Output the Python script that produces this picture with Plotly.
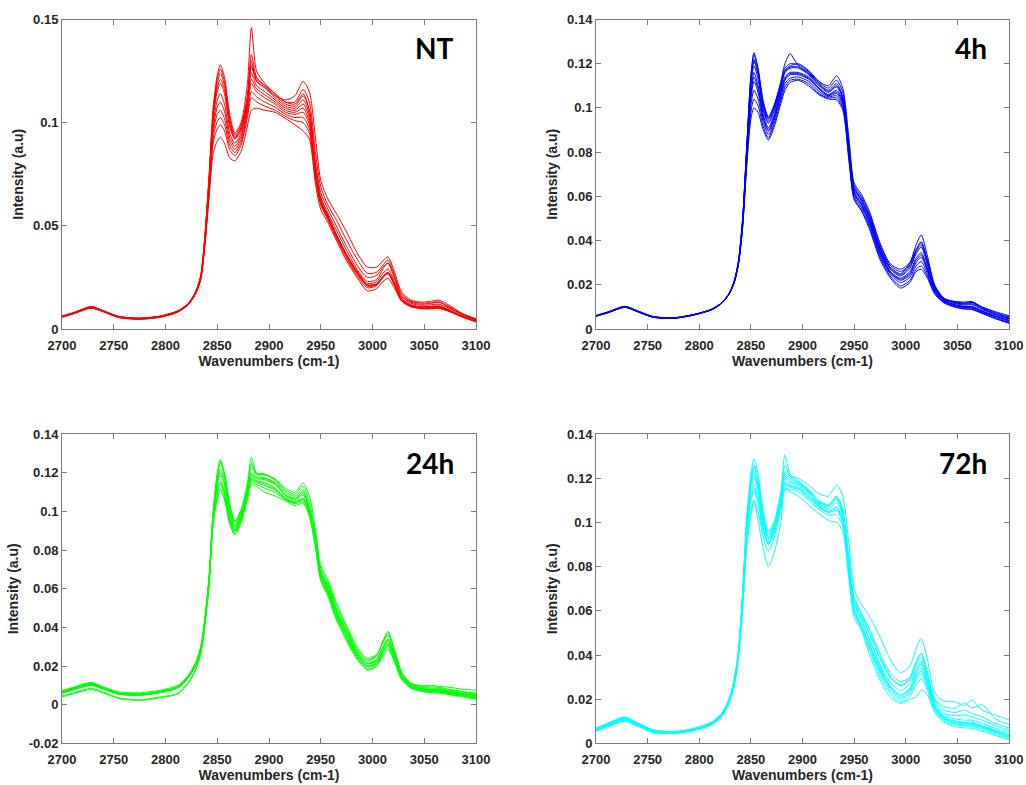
import plotly.graph_objects as go

# Wavenumber grid (cm-1) shared by all spectra
wavenumbers = [2700, 2712, 2728, 2740, 2755, 2775, 2795, 2812, 2822, 2829, 2834, 2838, 2842, 2846,
               2850, 2853, 2857, 2862, 2867, 2873, 2879, 2883, 2888, 2896, 2906, 2916, 2925, 2933,
               2939, 2945, 2950, 2957, 2965, 2975, 2985, 2995, 3004, 3010, 3015, 3021, 3028, 3037,
               3048, 3057, 3064, 3074, 3087, 3100]

nt_spectra = [
    [0.0062,0.0080,0.0108,0.0088,0.0060,0.0052,0.0062,0.0088,0.0125,0.0180,0.0260,0.0450,0.0740,0.1070,0.1230,0.1280,0.1220,0.1040,0.0950,0.1000,0.1180,0.1460,0.1250,0.1190,0.1140,0.1100,0.1090,0.1140,0.1060,0.0780,0.0640,0.0560,0.0480,0.0380,0.0290,0.0230,0.0240,0.0290,0.0320,0.0250,0.0160,0.0130,0.0120,0.0125,0.0130,0.0105,0.0070,0.0045],
    [0.0060,0.0078,0.0105,0.0086,0.0058,0.0050,0.0060,0.0085,0.0122,0.0178,0.0255,0.0440,0.0720,0.1050,0.1210,0.1260,0.1200,0.1020,0.0940,0.0990,0.1120,0.1300,0.1200,0.1170,0.1130,0.1110,0.1130,0.1200,0.1150,0.0920,0.0720,0.0630,0.0560,0.0470,0.0370,0.0300,0.0300,0.0330,0.0350,0.0280,0.0180,0.0140,0.0130,0.0135,0.0140,0.0115,0.0075,0.0050],
    [0.0058,0.0076,0.0102,0.0084,0.0056,0.0048,0.0058,0.0083,0.0120,0.0175,0.0250,0.0440,0.0720,0.1040,0.1190,0.1240,0.1180,0.1000,0.0930,0.0975,0.1120,0.1330,0.1220,0.1180,0.1130,0.1090,0.1080,0.1130,0.1060,0.0800,0.0660,0.0580,0.0500,0.0400,0.0310,0.0250,0.0260,0.0300,0.0320,0.0250,0.0160,0.0125,0.0115,0.0118,0.0120,0.0100,0.0068,0.0045],
    [0.0060,0.0079,0.0106,0.0087,0.0059,0.0051,0.0061,0.0086,0.0121,0.0176,0.0252,0.0435,0.0710,0.1020,0.1150,0.1190,0.1140,0.0980,0.0920,0.0965,0.1100,0.1270,0.1200,0.1170,0.1120,0.1080,0.1070,0.1110,0.1040,0.0770,0.0630,0.0550,0.0460,0.0360,0.0280,0.0220,0.0230,0.0270,0.0290,0.0230,0.0150,0.0118,0.0108,0.0110,0.0112,0.0092,0.0062,0.0040],
    [0.0057,0.0075,0.0101,0.0083,0.0055,0.0047,0.0057,0.0082,0.0118,0.0172,0.0246,0.0425,0.0690,0.0990,0.1110,0.1140,0.1090,0.0950,0.0900,0.0950,0.1090,0.1240,0.1180,0.1150,0.1110,0.1070,0.1060,0.1090,0.1020,0.0750,0.0610,0.0530,0.0440,0.0340,0.0260,0.0200,0.0210,0.0250,0.0270,0.0215,0.0140,0.0110,0.0100,0.0102,0.0105,0.0088,0.0058,0.0035],
    [0.0061,0.0080,0.0107,0.0088,0.0060,0.0052,0.0062,0.0087,0.0120,0.0172,0.0245,0.0420,0.0670,0.0950,0.1040,0.1060,0.1020,0.0910,0.0870,0.0920,0.1060,0.1190,0.1150,0.1120,0.1090,0.1050,0.1040,0.1050,0.0990,0.0740,0.0620,0.0545,0.0460,0.0360,0.0280,0.0215,0.0220,0.0255,0.0275,0.0220,0.0145,0.0115,0.0105,0.0108,0.0110,0.0092,0.0062,0.0040],
    [0.0059,0.0077,0.0103,0.0085,0.0057,0.0049,0.0059,0.0084,0.0118,0.0170,0.0240,0.0410,0.0650,0.0900,0.0970,0.0990,0.0960,0.0870,0.0840,0.0890,0.1020,0.1120,0.1100,0.1080,0.1060,0.1030,0.1010,0.1000,0.0950,0.0720,0.0600,0.0530,0.0450,0.0350,0.0270,0.0210,0.0215,0.0250,0.0268,0.0215,0.0140,0.0110,0.0100,0.0100,0.0102,0.0086,0.0058,0.0038],
    [0.0063,0.0081,0.0109,0.0089,0.0061,0.0053,0.0063,0.0088,0.0120,0.0170,0.0238,0.0400,0.0630,0.0850,0.0910,0.0930,0.0900,0.0830,0.0815,0.0860,0.0980,0.1060,0.1070,0.1060,0.1050,0.1020,0.0990,0.0960,0.0920,0.0700,0.0580,0.0515,0.0430,0.0330,0.0250,0.0185,0.0195,0.0230,0.0245,0.0200,0.0135,0.0108,0.0098,0.0098,0.0100,0.0085,0.0058,0.0035],
    [0.0061,0.0079,0.0106,0.0087,0.0059,0.0051,0.0061,0.0086,0.0121,0.0177,0.0254,0.0438,0.0715,0.1030,0.1170,0.1210,0.1160,0.0995,0.0925,0.0975,0.1110,0.1280,0.1210,0.1180,0.1140,0.1100,0.1100,0.1160,0.1100,0.0850,0.0690,0.0600,0.0530,0.0430,0.0340,0.0270,0.0275,0.0310,0.0335,0.0265,0.0170,0.0135,0.0125,0.0128,0.0132,0.0108,0.0072,0.0048],
    [0.0059,0.0078,0.0104,0.0085,0.0057,0.0049,0.0059,0.0084,0.0119,0.0171,0.0244,0.0422,0.0680,0.0970,0.1075,0.1100,0.1055,0.0930,0.0885,0.0935,0.1075,0.1210,0.1165,0.1135,0.1100,0.1060,0.1050,0.1070,0.1005,0.0745,0.0615,0.0538,0.0450,0.0350,0.0270,0.0208,0.0215,0.0252,0.0272,0.0218,0.0142,0.0112,0.0102,0.0105,0.0108,0.0090,0.0060,0.0038],
    [0.0060,0.0079,0.0105,0.0086,0.0058,0.0050,0.0060,0.0085,0.0119,0.0171,0.0242,0.0415,0.0660,0.0925,0.1005,0.1025,0.0990,0.0890,0.0855,0.0905,0.1040,0.1150,0.1125,0.1100,0.1075,0.1040,0.1025,0.1025,0.0970,0.0730,0.0610,0.0538,0.0455,0.0355,0.0275,0.0212,0.0218,0.0252,0.0272,0.0218,0.0142,0.0112,0.0102,0.0104,0.0106,0.0089,0.0060,0.0039],
]

h4_spectra = [
    [0.0060,0.0077,0.0102,0.0082,0.0056,0.0050,0.0066,0.0090,0.0120,0.0162,0.0220,0.0310,0.0500,0.0830,0.1150,0.1250,0.1180,0.1030,0.0960,0.1020,0.1120,0.1200,0.1245,0.1190,0.1160,0.1110,0.1080,0.1110,0.1050,0.0820,0.0640,0.0590,0.0510,0.0370,0.0280,0.0250,0.0300,0.0380,0.0425,0.0330,0.0200,0.0140,0.0120,0.0115,0.0120,0.0095,0.0070,0.0050],
    [0.0058,0.0075,0.0099,0.0079,0.0054,0.0049,0.0064,0.0088,0.0118,0.0160,0.0217,0.0305,0.0490,0.0815,0.1120,0.1220,0.1160,0.1010,0.0950,0.1010,0.1100,0.1170,0.1190,0.1200,0.1170,0.1120,0.1100,0.1145,0.1090,0.0860,0.0660,0.0610,0.0530,0.0390,0.0295,0.0270,0.0300,0.0360,0.0390,0.0310,0.0195,0.0138,0.0125,0.0122,0.0124,0.0100,0.0078,0.0060],
    [0.0061,0.0078,0.0103,0.0083,0.0057,0.0051,0.0066,0.0089,0.0119,0.0161,0.0216,0.0302,0.0485,0.0805,0.1100,0.1190,0.1130,0.0990,0.0930,0.0990,0.1090,0.1160,0.1180,0.1180,0.1150,0.1100,0.1070,0.1095,0.1040,0.0810,0.0630,0.0580,0.0500,0.0360,0.0270,0.0240,0.0275,0.0340,0.0370,0.0290,0.0185,0.0132,0.0115,0.0108,0.0110,0.0088,0.0065,0.0045],
    [0.0057,0.0074,0.0098,0.0078,0.0053,0.0048,0.0063,0.0087,0.0117,0.0159,0.0213,0.0298,0.0478,0.0795,0.1070,0.1160,0.1100,0.0970,0.0910,0.0975,0.1075,0.1140,0.1160,0.1160,0.1140,0.1090,0.1060,0.1080,0.1030,0.0800,0.0620,0.0570,0.0490,0.0350,0.0260,0.0230,0.0260,0.0320,0.0345,0.0275,0.0180,0.0130,0.0110,0.0102,0.0102,0.0082,0.0060,0.0040],
    [0.0059,0.0076,0.0100,0.0080,0.0055,0.0050,0.0065,0.0088,0.0118,0.0160,0.0214,0.0300,0.0475,0.0785,0.1040,0.1120,0.1070,0.0950,0.0895,0.0960,0.1060,0.1125,0.1150,0.1150,0.1130,0.1085,0.1055,0.1065,0.1020,0.0790,0.0610,0.0560,0.0480,0.0345,0.0255,0.0220,0.0245,0.0300,0.0325,0.0262,0.0172,0.0126,0.0106,0.0098,0.0098,0.0078,0.0056,0.0035],
    [0.0060,0.0077,0.0101,0.0081,0.0056,0.0050,0.0065,0.0089,0.0119,0.0160,0.0213,0.0297,0.0468,0.0770,0.1010,0.1080,0.1040,0.0935,0.0880,0.0950,0.1050,0.1110,0.1135,0.1140,0.1120,0.1075,0.1050,0.1055,0.1010,0.0780,0.0600,0.0550,0.0470,0.0335,0.0250,0.0210,0.0235,0.0285,0.0305,0.0250,0.0168,0.0124,0.0104,0.0096,0.0095,0.0075,0.0052,0.0030],
    [0.0058,0.0075,0.0099,0.0079,0.0054,0.0049,0.0064,0.0087,0.0117,0.0158,0.0211,0.0294,0.0460,0.0750,0.0980,0.1040,0.1010,0.0915,0.0865,0.0935,0.1035,0.1095,0.1125,0.1130,0.1110,0.1065,0.1045,0.1045,0.1000,0.0770,0.0590,0.0540,0.0460,0.0325,0.0240,0.0195,0.0220,0.0270,0.0285,0.0240,0.0162,0.0120,0.0100,0.0092,0.0090,0.0072,0.0048,0.0028],
    [0.0060,0.0076,0.0100,0.0080,0.0055,0.0050,0.0065,0.0088,0.0118,0.0159,0.0212,0.0295,0.0455,0.0735,0.0950,0.1000,0.0980,0.0900,0.0855,0.0920,0.1020,0.1080,0.1115,0.1125,0.1100,0.1060,0.1040,0.1036,0.0990,0.0760,0.0585,0.0535,0.0450,0.0315,0.0232,0.0185,0.0210,0.0260,0.0270,0.0230,0.0158,0.0118,0.0098,0.0090,0.0088,0.0070,0.0046,0.0026],
    [0.0059,0.0076,0.0101,0.0081,0.0055,0.0049,0.0065,0.0089,0.0119,0.0161,0.0219,0.0308,0.0495,0.0825,0.1140,0.1240,0.1170,0.1020,0.0955,0.1015,0.1110,0.1180,0.1200,0.1195,0.1165,0.1115,0.1090,0.1125,0.1070,0.0840,0.0650,0.0600,0.0520,0.0380,0.0288,0.0260,0.0290,0.0350,0.0380,0.0300,0.0190,0.0136,0.0122,0.0118,0.0122,0.0098,0.0074,0.0055],
    [0.0060,0.0077,0.0101,0.0081,0.0056,0.0050,0.0065,0.0089,0.0119,0.0161,0.0218,0.0306,0.0492,0.0815,0.1115,0.1210,0.1150,0.1000,0.0940,0.1000,0.1095,0.1165,0.1185,0.1185,0.1155,0.1105,0.1075,0.1100,0.1045,0.0815,0.0635,0.0585,0.0505,0.0365,0.0275,0.0245,0.0285,0.0355,0.0395,0.0310,0.0192,0.0135,0.0118,0.0112,0.0115,0.0092,0.0068,0.0048],
    [0.0058,0.0075,0.0099,0.0079,0.0054,0.0049,0.0064,0.0088,0.0118,0.0160,0.0214,0.0299,0.0476,0.0790,0.1055,0.1140,0.1085,0.0960,0.0900,0.0965,0.1065,0.1130,0.1155,0.1155,0.1135,0.1088,0.1058,0.1072,0.1025,0.0795,0.0615,0.0565,0.0485,0.0348,0.0258,0.0225,0.0252,0.0310,0.0335,0.0268,0.0176,0.0128,0.0108,0.0100,0.0100,0.0080,0.0058,0.0038],
]

h24_spectra = [
    [0.0070,0.0090,0.0112,0.0090,0.0062,0.0056,0.0070,0.0095,0.0150,0.0215,0.0295,0.0445,0.0660,0.1000,0.1200,0.1270,0.1200,0.1040,0.0950,0.1010,0.1140,0.1280,0.1200,0.1195,0.1160,0.1100,0.1080,0.1110,0.1020,0.0860,0.0690,0.0620,0.0500,0.0390,0.0280,0.0225,0.0250,0.0330,0.0380,0.0290,0.0170,0.0110,0.0090,0.0085,0.0085,0.0075,0.0065,0.0055],
    [0.0068,0.0088,0.0110,0.0088,0.0060,0.0055,0.0068,0.0093,0.0145,0.0210,0.0290,0.0440,0.0650,0.0990,0.1180,0.1250,0.1190,0.1030,0.0945,0.1000,0.1120,0.1230,0.1190,0.1190,0.1170,0.1120,0.1100,0.1147,0.1080,0.0900,0.0720,0.0646,0.0530,0.0410,0.0300,0.0240,0.0260,0.0320,0.0360,0.0280,0.0165,0.0110,0.0095,0.0092,0.0090,0.0080,0.0068,0.0060],
    [0.0064,0.0084,0.0106,0.0085,0.0058,0.0052,0.0066,0.0091,0.0142,0.0206,0.0285,0.0432,0.0640,0.0975,0.1160,0.1220,0.1170,0.1010,0.0930,0.0990,0.1110,0.1200,0.1180,0.1175,0.1150,0.1090,0.1070,0.1100,0.1020,0.0860,0.0690,0.0610,0.0490,0.0380,0.0272,0.0215,0.0235,0.0300,0.0340,0.0265,0.0155,0.0105,0.0085,0.0080,0.0080,0.0070,0.0060,0.0050],
    [0.0066,0.0086,0.0108,0.0087,0.0060,0.0054,0.0067,0.0092,0.0143,0.0208,0.0287,0.0435,0.0642,0.0970,0.1140,0.1190,0.1140,0.0990,0.0915,0.0980,0.1100,0.1185,0.1170,0.1165,0.1140,0.1080,0.1060,0.1085,0.1010,0.0850,0.0680,0.0600,0.0480,0.0370,0.0265,0.0210,0.0228,0.0290,0.0330,0.0258,0.0150,0.0100,0.0080,0.0075,0.0076,0.0066,0.0056,0.0046],
    [0.0062,0.0082,0.0104,0.0083,0.0056,0.0050,0.0064,0.0089,0.0140,0.0204,0.0282,0.0428,0.0632,0.0960,0.1120,0.1160,0.1110,0.0970,0.0905,0.0970,0.1090,0.1175,0.1160,0.1150,0.1120,0.1070,0.1050,0.1070,0.1000,0.0840,0.0670,0.0590,0.0470,0.0360,0.0258,0.0200,0.0220,0.0280,0.0318,0.0250,0.0146,0.0096,0.0076,0.0072,0.0072,0.0062,0.0052,0.0040],
    [0.0058,0.0078,0.0100,0.0080,0.0054,0.0048,0.0062,0.0087,0.0138,0.0202,0.0280,0.0424,0.0625,0.0950,0.1100,0.1140,0.1090,0.0960,0.0895,0.0960,0.1080,0.1160,0.1150,0.1135,0.1110,0.1065,0.1045,0.1060,0.0990,0.0830,0.0660,0.0580,0.0460,0.0350,0.0250,0.0195,0.0212,0.0270,0.0305,0.0240,0.0140,0.0092,0.0073,0.0068,0.0068,0.0058,0.0048,0.0036],
    [0.0045,0.0062,0.0085,0.0065,0.0035,0.0025,0.0040,0.0060,0.0115,0.0182,0.0265,0.0412,0.0615,0.0940,0.1080,0.1120,0.1070,0.0945,0.0885,0.0950,0.1070,0.1150,0.1140,0.1120,0.1100,0.1060,0.1040,0.1050,0.0980,0.0820,0.0650,0.0570,0.0450,0.0340,0.0242,0.0185,0.0205,0.0260,0.0295,0.0232,0.0135,0.0088,0.0070,0.0065,0.0064,0.0055,0.0044,0.0032],
    [0.0040,0.0058,0.0078,0.0060,0.0032,0.0022,0.0036,0.0055,0.0110,0.0178,0.0260,0.0405,0.0608,0.0930,0.1060,0.1110,0.1060,0.0935,0.0879,0.0940,0.1060,0.1140,0.1130,0.1100,0.1080,0.1055,0.1030,0.1044,0.0975,0.0810,0.0640,0.0560,0.0440,0.0330,0.0235,0.0180,0.0198,0.0252,0.0285,0.0225,0.0130,0.0085,0.0068,0.0062,0.0060,0.0052,0.0040,0.0028],
    [0.0072,0.0092,0.0115,0.0092,0.0066,0.0062,0.0075,0.0100,0.0152,0.0217,0.0297,0.0442,0.0655,0.0995,0.1190,0.1260,0.1195,0.1035,0.0948,0.1005,0.1130,0.1250,0.1195,0.1192,0.1165,0.1110,0.1090,0.1130,0.1050,0.0880,0.0705,0.0632,0.0515,0.0400,0.0290,0.0232,0.0255,0.0325,0.0370,0.0285,0.0168,0.0112,0.0098,0.0100,0.0095,0.0090,0.0080,0.0075],
    [0.0060,0.0080,0.0102,0.0082,0.0055,0.0049,0.0063,0.0088,0.0139,0.0203,0.0281,0.0426,0.0628,0.0955,0.1110,0.1150,0.1100,0.0965,0.0900,0.0965,0.1085,0.1168,0.1155,0.1142,0.1115,0.1068,0.1048,0.1065,0.0995,0.0835,0.0665,0.0585,0.0465,0.0355,0.0254,0.0198,0.0216,0.0275,0.0312,0.0245,0.0143,0.0094,0.0074,0.0070,0.0070,0.0060,0.0050,0.0038],
    [0.0065,0.0085,0.0107,0.0086,0.0059,0.0053,0.0066,0.0092,0.0143,0.0207,0.0286,0.0434,0.0641,0.0972,0.1150,0.1205,0.1155,0.1000,0.0922,0.0985,0.1105,0.1192,0.1175,0.1170,0.1145,0.1085,0.1065,0.1092,0.1015,0.0855,0.0685,0.0605,0.0485,0.0375,0.0268,0.0212,0.0232,0.0295,0.0335,0.0262,0.0152,0.0102,0.0082,0.0078,0.0078,0.0068,0.0058,0.0048],
]

h72_spectra = [
    [0.0068,0.0090,0.0118,0.0092,0.0060,0.0052,0.0066,0.0094,0.0135,0.0200,0.0290,0.0420,0.0680,0.1020,0.1220,0.1290,0.1220,0.1050,0.0960,0.1010,0.1140,0.1306,0.1220,0.1190,0.1150,0.1100,0.1080,0.1110,0.1040,0.0800,0.0640,0.0560,0.0470,0.0350,0.0260,0.0220,0.0250,0.0320,0.0360,0.0280,0.0170,0.0120,0.0100,0.0095,0.0095,0.0080,0.0060,0.0040],
    [0.0070,0.0092,0.0120,0.0094,0.0062,0.0054,0.0068,0.0096,0.0138,0.0205,0.0295,0.0425,0.0680,0.1010,0.1190,0.1250,0.1190,0.1030,0.0950,0.1000,0.1120,0.1230,0.1210,0.1200,0.1170,0.1130,0.1120,0.1170,0.1120,0.0900,0.0700,0.0630,0.0574,0.0483,0.0380,0.0320,0.0350,0.0430,0.0476,0.0380,0.0230,0.0190,0.0188,0.0170,0.0196,0.0150,0.0128,0.0106],
    [0.0065,0.0087,0.0114,0.0089,0.0058,0.0050,0.0064,0.0092,0.0132,0.0196,0.0285,0.0415,0.0670,0.1000,0.1180,0.1230,0.1170,0.1010,0.0935,0.0990,0.1110,0.1220,0.1200,0.1180,0.1140,0.1090,0.1080,0.1120,0.1060,0.0840,0.0660,0.0590,0.0520,0.0410,0.0320,0.0280,0.0300,0.0370,0.0408,0.0320,0.0195,0.0150,0.0140,0.0150,0.0135,0.0120,0.0090,0.0070],
    [0.0062,0.0084,0.0110,0.0086,0.0056,0.0048,0.0062,0.0090,0.0130,0.0193,0.0280,0.0410,0.0660,0.0990,0.1160,0.1200,0.1150,0.0995,0.0925,0.0980,0.1100,0.1200,0.1180,0.1170,0.1130,0.1080,0.1060,0.1090,0.1030,0.0800,0.0630,0.0560,0.0470,0.0360,0.0275,0.0240,0.0270,0.0330,0.0370,0.0290,0.0175,0.0125,0.0110,0.0105,0.0105,0.0090,0.0068,0.0050],
    [0.0060,0.0082,0.0108,0.0084,0.0054,0.0047,0.0061,0.0088,0.0128,0.0190,0.0276,0.0405,0.0650,0.0975,0.1130,0.1170,0.1120,0.0975,0.0910,0.0970,0.1090,0.1185,0.1170,0.1160,0.1120,0.1075,0.1050,0.1070,0.1010,0.0780,0.0610,0.0540,0.0450,0.0340,0.0255,0.0215,0.0245,0.0305,0.0340,0.0270,0.0165,0.0115,0.0098,0.0092,0.0090,0.0078,0.0055,0.0035],
    [0.0058,0.0080,0.0105,0.0082,0.0052,0.0046,0.0060,0.0086,0.0126,0.0188,0.0272,0.0400,0.0640,0.0955,0.1100,0.1140,0.1090,0.0960,0.0900,0.0960,0.1080,0.1170,0.1160,0.1150,0.1110,0.1070,0.1045,0.1055,0.1000,0.0770,0.0600,0.0530,0.0435,0.0320,0.0240,0.0200,0.0228,0.0285,0.0315,0.0255,0.0158,0.0108,0.0090,0.0084,0.0082,0.0070,0.0048,0.0028],
    [0.0056,0.0078,0.0102,0.0080,0.0050,0.0045,0.0059,0.0085,0.0124,0.0185,0.0268,0.0392,0.0620,0.0920,0.1060,0.1100,0.1050,0.0930,0.0870,0.0940,0.1060,0.1155,0.1150,0.1140,0.1100,0.1060,0.1035,0.1035,0.0985,0.0760,0.0590,0.0520,0.0420,0.0305,0.0228,0.0188,0.0212,0.0265,0.0290,0.0240,0.0150,0.0102,0.0084,0.0078,0.0076,0.0064,0.0042,0.0022],
    [0.0055,0.0076,0.0100,0.0078,0.0049,0.0044,0.0058,0.0084,0.0122,0.0182,0.0264,0.0385,0.0600,0.0890,0.1030,0.1100,0.1010,0.0880,0.0800,0.0870,0.1000,0.1150,0.1140,0.1120,0.1080,0.1040,0.1010,0.1000,0.0960,0.0740,0.0570,0.0513,0.0400,0.0287,0.0210,0.0180,0.0200,0.0210,0.0241,0.0220,0.0140,0.0095,0.0075,0.0070,0.0068,0.0055,0.0035,0.0015],
    [0.0064,0.0086,0.0112,0.0088,0.0057,0.0049,0.0063,0.0091,0.0131,0.0195,0.0282,0.0412,0.0665,0.0995,0.1170,0.1215,0.1160,0.1002,0.0930,0.0985,0.1105,0.1210,0.1190,0.1175,0.1135,0.1085,0.1070,0.1105,0.1045,0.0820,0.0645,0.0575,0.0495,0.0385,0.0298,0.0260,0.0285,0.0350,0.0390,0.0305,0.0185,0.0135,0.0125,0.0128,0.0120,0.0105,0.0080,0.0060],
    [0.0059,0.0081,0.0106,0.0083,0.0053,0.0046,0.0060,0.0087,0.0127,0.0189,0.0274,0.0402,0.0645,0.0965,0.1115,0.1155,0.1105,0.0968,0.0905,0.0965,0.1085,0.1178,0.1165,0.1155,0.1115,0.1072,0.1048,0.1062,0.1005,0.0775,0.0605,0.0535,0.0442,0.0330,0.0248,0.0208,0.0236,0.0295,0.0328,0.0262,0.0162,0.0112,0.0094,0.0088,0.0086,0.0074,0.0052,0.0032],
    [0.0066,0.0088,0.0116,0.0091,0.0059,0.0051,0.0065,0.0093,0.0134,0.0198,0.0288,0.0418,0.0675,0.1010,0.1200,0.1260,0.1195,0.1030,0.0948,0.1000,0.1125,0.1260,0.1210,0.1185,0.1145,0.1095,0.1075,0.1115,0.1050,0.0830,0.0655,0.0585,0.0505,0.0395,0.0305,0.0265,0.0295,0.0365,0.0405,0.0320,0.0200,0.0165,0.0160,0.0185,0.0160,0.0175,0.0110,0.0085],
]

panel_labels = ["NT", "4h", "24h", "72h"]
panel_colors = ["#FF0000", "#0000FF", "#00FF00", "#00FFFF"]
x_ticks = [2700, 2750, 2800, 2850, 2900, 2950, 3000, 3050, 3100]
y_ticks_nt = [0, 0.05, 0.1, 0.15]
y_ticktext_nt = ["0", "0.05", "0.1", "0.15"]
y_ticks_h = [-0.02, 0, 0.02, 0.04, 0.06, 0.08, 0.1, 0.12, 0.14]
y_ticktext_h = ["-0.02", "0", "0.02", "0.04", "0.06", "0.08", "0.1", "0.12", "0.14"]

W, H = 1026, 785
# plot-area pixel boxes (left, right, top, bottom)
boxes = [(62, 476, 19.5, 329), (596, 1009, 19.5, 329),
         (62, 476, 434.3, 743.3), (596, 1009, 434.3, 743.3)]
y_ranges = [(0, 0.15), (0, 0.14), (-0.02, 0.14), (0, 0.14)]

fig = go.Figure()
all_spectra = [nt_spectra, h4_spectra, h24_spectra, h72_spectra]
tickfont = dict(family="Liberation Sans", size=13, color="#262626", weight="bold")
titlefont = dict(family="Liberation Sans", size=14, color="#262626", weight="bold")
axis_common = dict(showline=True, linecolor="#7a7a7a", linewidth=1, mirror="ticks",
                   ticks="inside", ticklen=5, tickcolor="#7a7a7a", showgrid=False,
                   zeroline=False, tickfont=tickfont, automargin=False)

layout = dict(width=W, height=H, margin=dict(l=0, r=0, t=0, b=0, autoexpand=False),
              paper_bgcolor="white", plot_bgcolor="white", showlegend=False)
annotations = []
for i, spectra in enumerate(all_spectra):
    n = i + 1
    xa = "x" if n == 1 else f"x{n}"
    ya = "y" if n == 1 else f"y{n}"
    for s in spectra:
        fig.add_trace(go.Scatter(x=wavenumbers, y=s, xaxis=xa, yaxis=ya, mode="lines",
                                 line=dict(color=panel_colors[i], width=1, shape="spline", smoothing=0.7),
                                 hoverinfo="skip"))
    l, r, t, b = boxes[i]
    if i == 0:
        yt, ytt = y_ticks_nt, y_ticktext_nt
    else:
        yt, ytt = y_ticks_h, y_ticktext_h
    layout[f"xaxis{'' if n == 1 else n}"] = dict(
        domain=[l / W, r / W], anchor=ya, range=[2700, 3100], tickvals=x_ticks,
        ticklabelstandoff=4,
        title=dict(text="Wavenumbers (cm-1)", font=titlefont, standoff=4), **axis_common)
    layout[f"yaxis{'' if n == 1 else n}"] = dict(
        domain=[1 - b / H, 1 - t / H], anchor=xa, range=list(y_ranges[i]),
        tickvals=yt, ticktext=ytt,
        title=dict(text="Intensity (a.u)", font=titlefont, standoff=6), **axis_common)
    annotations.append(dict(text=panel_labels[i], xref="paper", yref="paper",
                            x=(r - 20) / W, y=1 - (t + 29) / H, xanchor="right", yanchor="middle",
                            showarrow=False,
                            font=dict(family="Lato", size=28, color="black", weight="bold")))
layout["annotations"] = annotations
fig.update_layout(**layout)
fig.write_html("out.html")
